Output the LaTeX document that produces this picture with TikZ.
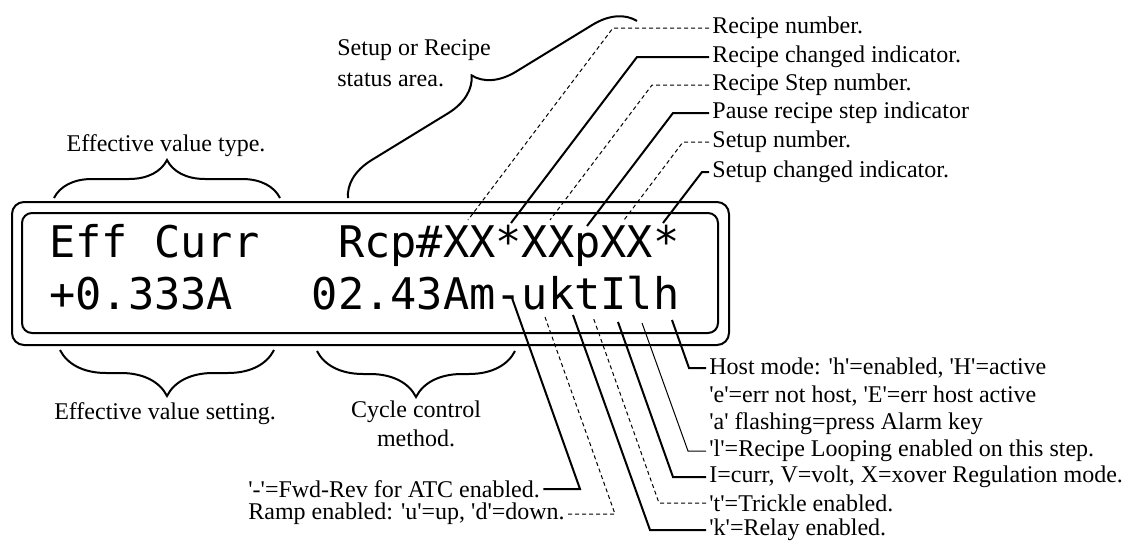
\documentclass[tikz,border=0pt]{standalone}
\usepackage{fontspec}
\setmainfont{Liberation Serif}[Ligatures=TeXOff]
\newfontfamily\lcdfont{DejaVu Sans Mono}
\usetikzlibrary{decorations.pathreplacing}
\tikzset{
  frame/.style={line width=1pt, rounded corners=6pt},
  lcdtext/.style={font=\lcdfont\fontsize{21.8}{26}\selectfont, inner sep=0pt, anchor=base west},
  lbl/.style={font=\fontsize{12}{14.4}\selectfont, inner sep=1.5pt},
  lead/.style={line width=1pt},
  leaddash/.style={line width=0.5pt, dash pattern=on 2pt off 1.5pt},
  leadthin/.style={line width=0.5pt},
  brc/.style={line width=1pt, decorate, decoration={brace, amplitude=#1}},
}

\begin{document}
\begin{tikzpicture}[x=0.5pt, y=-0.5pt]
  \useasboundingbox (0,0) rectangle (1129,546);
  % display: outer and inner frame
  \draw[frame] (12,202) rectangle (729,345);
  \draw[frame, rounded corners=5pt] (22,213) rectangle (718,333);
  \node[lcdtext] (row1) at (49,257) {Eff\hphantom{X}Curr\hphantom{XXX}Rcp\#XX*XXpXX*};
  \node[lcdtext] (row2) at (49,309) {+0.333A\hphantom{XXX}02.43Am-uktIlh};
  % braces above the display
  \draw[brc=19pt] (54,198) -- (280,198);
  \node[lbl] (efftype) at (166,146) {Effective value type.};
  \draw[brc=20pt] (348,198) -- (637,21);
  \node[lbl, align=left, anchor=west] (status) at (334,63) {Setup or Recipe\\[1pt]status area.};
  % braces below the display
  \draw[brc=23pt] (274,350) -- (60,350);
  \node[lbl] (effset) at (165,414) {Effective value setting.};
  \draw[brc=23pt] (515,351) -- (317,351);
  \node[lbl, align=center] (cycle) at (416,424) {Cycle control\\method.};
  % points on the display characters
  \coordinate (pRnum) at (468,220);
  \coordinate (pRchg) at (511,223);
  \coordinate (pRstep) at (550,220);
  \coordinate (pPause) at (587,226);
  \coordinate (pSnum) at (624,220);
  \coordinate (pSchg) at (663,223);
  \coordinate (pFwd) at (512,298);
  \coordinate (pRamp) at (545,317);
  \coordinate (pRelay) at (573,315);
  \coordinate (pTrickle) at (593,317);
  \coordinate (pReg) at (618,322);
  \coordinate (pLoop) at (642,323);
  \coordinate (pHost) at (672,320);
  % status line labels
  \node[lbl, anchor=west] (rnum) at (709,28) {Recipe number.};
  \node[lbl, anchor=west] (rchg) at (709,57) {Recipe changed indicator.};
  \node[lbl, anchor=west] (rstep) at (709,85) {Recipe Step number.};
  \node[lbl, anchor=west] (pause) at (709,113) {Pause recipe step indicator};
  \node[lbl, anchor=west] (snum) at (709,142) {Setup number.};
  \node[lbl, anchor=west] (schg) at (709,172) {Setup changed indicator.};
  \draw[leaddash] (rnum.west) -- ++(-96,0) -- (pRnum);
  \draw[lead] (rchg.west) -- ++(-72,0) -- (pRchg);
  \draw[leaddash] (rstep.west) -- ++(-57,0) -- (pRstep);
  \draw[lead] (pause.west) -- ++(-36,0) -- (pPause);
  \draw[leaddash] (snum.west) -- ++(-26,0) -- (pSnum);
  \draw[lead] (schg.west) -- ++(-7,0) -- (pSchg);
  % value line labels
  \node[lbl, anchor=west] (host) at (706,368) {Host mode: 'h'=enabled, 'H'=active};
  \node[lbl, anchor=west] (hosterr) at (706,396) {'e'=err not host, 'E'=err host active};
  \node[lbl, anchor=west] (alarm) at (706,424) {'a' flashing=press Alarm key};
  \node[lbl, anchor=west] (loop) at (706,451) {'l'=Recipe Looping enabled on this step.};
  \node[lbl, anchor=west] (reg) at (706,477) {I=curr, V=volt, X=xover Regulation mode.};
  \node[lbl, anchor=west] (trickle) at (706,503) {'t'=Trickle enabled.};
  \node[lbl, anchor=west] (relay) at (706,530) {'k'=Relay enabled.};
  \node[lbl, anchor=west] (fwd) at (245,489) {'-'=Fwd-Rev for ATC enabled.};
  \node[lbl, anchor=west] (ramp) at (245,514) {Ramp enabled: 'u'=up, 'd'=down.};
  \draw[lead] (host.west) -- ++(-17,0) -- (pHost);
  \draw[leadthin] (loop.west) -- ++(-18,0) -- (pLoop);
  \draw[lead] (reg.west) -- ++(-33,0) -- (pReg);
  \draw[leaddash] (trickle.west) -- ++(-47,0) -- (pTrickle);
  \draw[lead] (relay.west) -- ++(-56,0) -- (pRelay);
  \draw[lead] (fwd.east) -- (580,489) -- (pFwd);
  \draw[leaddash] (ramp.east) -- (615,514) -- (pRamp);
\end{tikzpicture}
\end{document}
